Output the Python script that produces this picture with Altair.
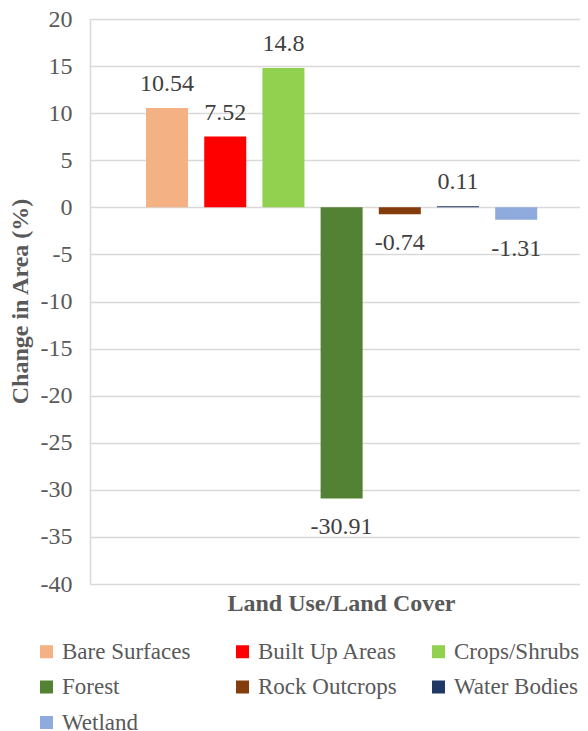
import altair as alt
import pandas as pd

categories = ["Bare Surfaces", "Built Up Areas", "Crops/Shrubs", "Forest",
              "Rock Outcrops", "Water Bodies", "Wetland"]
values = [10.54, 7.52, 14.8, -30.91, -0.74, 0.11, -1.31]
labels = ["10.54", "7.52", "14.8", "-30.91", "-0.74", "0.11", "-1.31"]
colors = ["#F4B183", "#FF0000", "#92D050", "#548235", "#843C0C", "#1F3864", "#8FAADC"]
y_ticks = list(range(-40, 25, 5))

df = pd.DataFrame({"cat": categories, "val": values, "lab": labels})

FONT = "Liberation Serif"
GRID = "#d9d9d9"

x = alt.X("cat:N", sort=categories,
          scale=alt.Scale(paddingInner=0.278, paddingOuter=0.849, align=0.567),
          axis=alt.Axis(labels=False, ticks=False, domain=False, grid=False,
                        title="Land Use/Land Cover", titleFont=FONT,
                        titleFontSize=24, titleFontWeight="bold",
                        titleColor="#595959", titleX=251, titleY=19,
                        titleAlign="center", titleBaseline="middle"))
y = alt.Y("val:Q", scale=alt.Scale(domain=[-40, 20], nice=False),
          axis=alt.Axis(values=y_ticks, ticks=False, domain=True,
                        domainColor=GRID, domainWidth=1.5,
                        labelExpr="'' + datum.value",
                        labelFont=FONT, labelFontSize=24, labelColor="#595959",
                        labelPadding=18, gridColor=GRID, gridWidth=1.5,
                        title="Change in Area (%)", titleFont=FONT,
                        titleFontSize=24, titleFontWeight="bold",
                        titleColor="#595959", titleX=-70, titleY=282,
                        titleAngle=270, titleAlign="center",
                        titleBaseline="middle"))

color = alt.Color("cat:N", sort=categories,
                  scale=alt.Scale(domain=categories, range=colors),
                  legend=alt.Legend(title=None, orient="none", legendX=-55,
                                    legendY=621, direction="horizontal",
                                    columns=3, gridAlign="all", padding=0,
                                    columnPadding=29, rowPadding=11.5,
                                    symbolType="square", symbolSize=169,
                                    symbolStrokeWidth=0, symbolOpacity=1,
                                    labelFont=FONT, labelFontSize=23,
                                    labelColor="#595959", labelOffset=4,
                                    labelLimit=300))

base = alt.Chart(df)
bars = base.mark_bar(opacity=1).encode(x=x, y=y, color=color)
pos = base.transform_filter("datum.val >= 0").mark_text(
    font=FONT, fontSize=24, color="#404040", dy=-24, baseline="middle"
).encode(x=x, y=y, text="lab:N")
neg = base.transform_filter("datum.val < 0").mark_text(
    font=FONT, fontSize=24, color="#404040", dy=29, baseline="middle"
).encode(x=x, y=y, text="lab:N")

chart = alt.layer(bars, pos, neg).properties(
    width=490, height=565,
    autosize=alt.AutoSizeParams(type="none"),
    padding={"left": 82, "top": 11, "right": 0, "bottom": 147},
).configure_view(fill="#f0f0f0", strokeWidth=0
).configure(background="white")

chart.save("out.html", embed_options={"renderer": "svg", "actions": False})
